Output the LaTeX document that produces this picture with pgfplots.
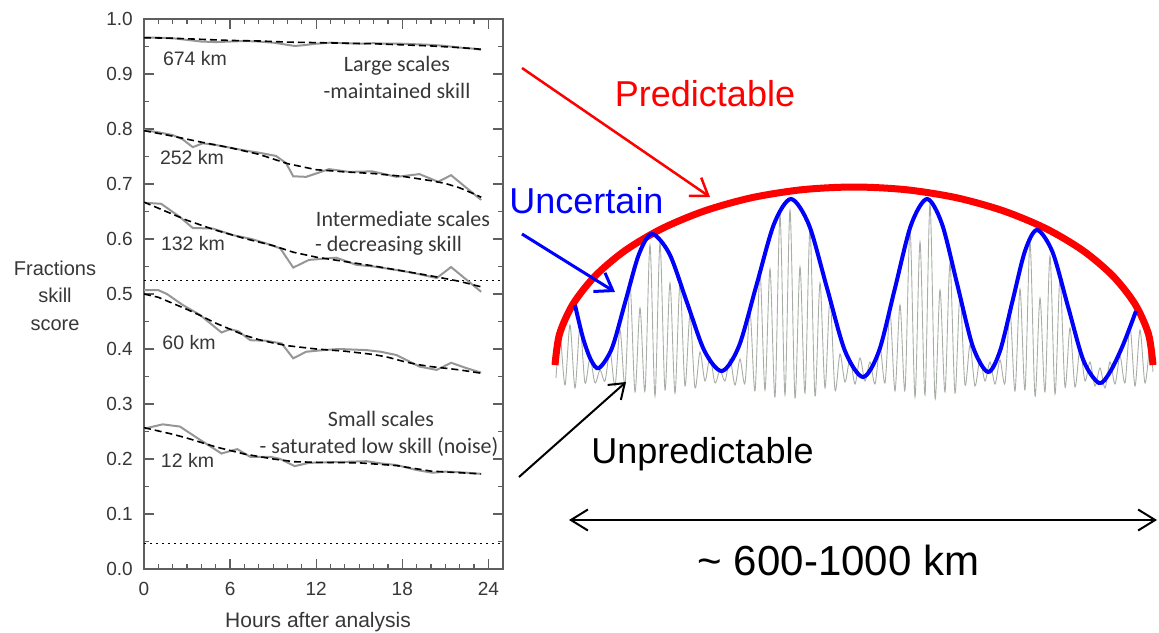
\documentclass[border=0pt]{standalone}
\usepackage{pgfplots}
\pgfplotsset{compat=1.18}
\usepackage{fontspec}
\setmainfont{Liberation Sans}
\newfontfamily\annfont{Carlito}
\usetikzlibrary{arrows.meta}
\definecolor{grayline}{RGB}{150,150,150}
\definecolor{wavegray}{RGB}{168,173,166}
\definecolor{axgray}{RGB}{95,95,95}
\definecolor{txtgray}{RGB}{55,55,55}
\begin{document}
\begin{tikzpicture}
\useasboundingbox (0pt,0pt) rectangle (1159pt,632pt);
\begin{axis}[
  at={(144pt,63pt)}, anchor=south west,
  scale only axis, width=358.7pt, height=550pt,
  xmin=0, xmax=25, ymin=0, ymax=1,
  xtick={0,6,12,18,24}, xticklabels={0,6,12,18,24},
  minor xtick={1,2,3,4,5,7,8,9,10,11,13,14,15,16,17,19,20,21,22,23},
  ytick={0,0.1,0.2,0.3,0.4,0.5,0.6,0.7,0.8,0.9,1},
  yticklabels={0.0,0.1,0.2,0.3,0.4,0.5,0.6,0.7,0.8,0.9,1.0},
  minor ytick={0.05,0.15,0.25,0.35,0.45,0.55,0.65,0.75,0.85,0.95},
  tick align=inside,
  major tick length=10pt, minor tick length=5pt,
  axis line style={axgray, line width=1.8pt},
  tick style={axgray, line width=1.2pt},
  tick label style={font=\fontsize{19}{22}\selectfont, text=txtgray},
  yticklabel style={inner sep=0pt, xshift=-11pt},
  xticklabel style={inner sep=0pt, yshift=-13pt},
  /pgf/number format/assume math mode=true,
]
% dotted reference lines
\addplot[black, line width=1.2pt, dash pattern=on 1.5pt off 4.5pt] coordinates {(0,0.524) (25,0.524)};
\addplot[black, line width=1.2pt, dash pattern=on 1.5pt off 4.5pt] coordinates {(0,0.047) (25,0.047)};
% 674 km
\addplot[grayline, line width=2pt] coordinates {(0,0.966) (1,0.966) (2,0.965) (3,0.962) (4,0.959) (5,0.958) (6,0.959) (7,0.960) (8,0.959) (9,0.957) (10,0.953) (10.5,0.951) (11,0.952) (12,0.955) (13,0.957) (14,0.956) (15,0.955) (16,0.956) (17,0.955) (18,0.955) (19,0.954) (20,0.953) (21,0.951) (22,0.948) (23,0.946) (23.5,0.944)};
\addplot[black, line width=1.6pt, dash pattern=on 7pt off 4pt] coordinates {(0,0.966) (2,0.965) (4,0.963) (6,0.961) (8,0.960) (10,0.958) (12,0.957) (14,0.956) (16,0.955) (18,0.953) (20,0.951) (22,0.948) (23.5,0.945)};
% 252 km
\addplot[grayline, line width=2pt] coordinates {(0,0.798) (1,0.794) (2,0.789) (2.7,0.781) (3.4,0.767) (4.1,0.774) (5,0.771) (6.2,0.765) (7,0.761) (8,0.757) (9.2,0.751) (9.9,0.738) (10.4,0.714) (11.3,0.713) (12.9,0.727) (14.3,0.722) (15.9,0.723) (17.6,0.713) (19.2,0.718) (20.5,0.704) (21.4,0.716) (23.5,0.671)};
\addplot[black, line width=1.6pt, dash pattern=on 7pt off 4pt] coordinates {(0,0.797) (2,0.787) (4,0.776) (6,0.766) (8,0.754) (10,0.737) (12,0.726) (14,0.722) (16,0.719) (18,0.714) (20,0.706) (21,0.701) (22,0.693) (23,0.682) (23.5,0.676)};
% 132 km
\addplot[grayline, line width=2pt] coordinates {(0,0.666) (1.2,0.664) (2.5,0.640) (3.4,0.620) (4.8,0.619) (6.2,0.607) (7.5,0.600) (8.5,0.592) (9.5,0.583) (10.4,0.548) (11.5,0.562) (13.4,0.566) (14.8,0.553) (16,0.550) (17,0.546) (18,0.542) (19,0.537) (20.4,0.529) (21.4,0.549) (23.5,0.504)};
\addplot[black, line width=1.6pt, dash pattern=on 7pt off 4pt] coordinates {(0,0.667) (2,0.645) (3,0.634) (5,0.616) (7,0.601) (9,0.588) (10.4,0.576) (12,0.567) (14,0.559) (16,0.551) (18,0.542) (20,0.533) (22,0.523) (23.5,0.513)};
% 60 km
\addplot[grayline, line width=2pt] coordinates {(0,0.507) (1,0.507) (1.6,0.500) (2.7,0.480) (3.9,0.462) (5.4,0.430) (6,0.436) (6.6,0.432) (7.4,0.416) (8.5,0.415) (9.6,0.410) (10.4,0.383) (11.3,0.395) (12.5,0.398) (13.6,0.400) (15.5,0.398) (16.5,0.395) (17.6,0.389) (19.2,0.368) (20.4,0.362) (21.4,0.375) (22.5,0.365) (23.5,0.357)};
\addplot[black, line width=1.6pt, dash pattern=on 7pt off 4pt] coordinates {(0,0.500) (1,0.494) (2,0.483) (3,0.472) (4,0.460) (5,0.447) (6,0.436) (7,0.425) (8,0.417) (9,0.411) (10,0.406) (11,0.403) (12,0.400) (13,0.398) (14,0.396) (15,0.393) (16,0.390) (17,0.385) (18,0.378) (19,0.372) (20,0.368) (21,0.365) (22,0.362) (23,0.358) (23.5,0.356)};
% 12 km
\addplot[grayline, line width=2pt] coordinates {(0,0.255) (1.3,0.263) (2.5,0.259) (3.9,0.235) (5.4,0.210) (6.5,0.218) (7.4,0.204) (8.8,0.204) (9.5,0.200) (10.5,0.187) (11.5,0.193) (13,0.194) (15.5,0.196) (16.5,0.192) (17.6,0.189) (19,0.180) (20.1,0.175) (21,0.177) (22,0.176) (23.5,0.173)};
\addplot[black, line width=1.6pt, dash pattern=on 7pt off 4pt] coordinates {(0,0.257) (2,0.245) (3,0.238) (5,0.222) (7,0.209) (9,0.200) (10.5,0.195) (12,0.194) (15,0.193) (17.6,0.188) (20,0.178) (22,0.175) (23.5,0.173)};
\end{axis}
\begin{axis}[
  at={(0pt,0pt)}, anchor=south west,
  scale only axis, width=1159pt, height=632pt,
  xmin=0, xmax=1159, ymin=0, ymax=632, y dir=reverse,
  hide axis, clip=false,
]
% left panel labels
\node[anchor=base, font=\fontsize{20}{24}\selectfont, text=txtgray] at (axis cs:55,275) {Fractions};
\node[anchor=base, font=\fontsize{20}{24}\selectfont, text=txtgray] at (axis cs:55,302.5) {skill};
\node[anchor=base, font=\fontsize{20}{24}\selectfont, text=txtgray] at (axis cs:55,330) {score};
\node[anchor=base, font=\fontsize{21}{25}\selectfont, text=txtgray] at (axis cs:318,627) {Hours after analysis};
\node[anchor=base, font=\fontsize{19.5}{23}\selectfont, text=txtgray] at (axis cs:195,65) {674 km};
\node[anchor=base, font=\fontsize{19.5}{23}\selectfont, text=txtgray] at (axis cs:192,164) {252 km};
\node[anchor=base, font=\fontsize{19.5}{23}\selectfont, text=txtgray] at (axis cs:193,250.7) {132 km};
\node[anchor=base, font=\fontsize{19.5}{23}\selectfont, text=txtgray] at (axis cs:189,349.3) {60 km};
\node[anchor=base, font=\fontsize{19.5}{23}\selectfont, text=txtgray] at (axis cs:187.5,467.3) {12 km};
\node[anchor=base, font=\annfont\fontsize{22}{26}\selectfont, text=txtgray] at (axis cs:397,71.7) {Large scales};
\node[anchor=base, font=\annfont\fontsize{22}{26}\selectfont, text=txtgray] at (axis cs:397,98.3) {-maintained skill};
\node[anchor=base, font=\annfont\fontsize{22}{26}\selectfont, text=txtgray] at (axis cs:403,226.7) {Intermediate scales};
\node[anchor=base west, font=\annfont\fontsize{22}{26}\selectfont, text=txtgray, inner sep=0pt] at (axis cs:315,251.7) {- decreasing skill};
\node[anchor=base, font=\annfont\fontsize{22}{26}\selectfont, text=txtgray] at (axis cs:381,426.7) {Small scales};
\node[anchor=base, font=\annfont\fontsize{22}{26}\selectfont, text=txtgray] at (axis cs:379,453) {- saturated low skill (noise)};
% gray fast oscillation
\addplot[wavegray, line width=0.9pt, smooth] coordinates {
(556,378) (560,335) (565,385) (570,325) (575,388) (580,326) (585,383) (590,358) (595,383) (600,370) (605,381) (610,351) (615,386) (620,330) (625,385) (630,285) (635,392) (640,308) (645,391) (650,245) (655,396) (660,243) (665,390) (670,283) (675,393) (680,283) (685,386) (690,315) (695,388) (700,352) (705,381) (710,357) (715,383) (720,370) (725,381) (730,359) (735,385) (740,359) (745,383) (750,312) (755,391) (760,273) (765,390) (770,269) (775,397) (780,215) (785,395) (790,210) (795,398) (800,267) (805,393) (810,229) (815,396) (820,283) (825,388) (830,299) (835,390) (840,354) (845,382) (850,359) (855,384) (860,358) (865,381) (870,362) (875,384) (880,347) (885,383) (890,312) (895,391) (900,305) (905,390) (910,229) (915,397) (920,242) (925,395) (930,204) (935,398) (940,290) (945,392) (950,263) (955,393) (960,295) (965,385) (970,345) (975,386) (980,359) (985,381) (990,362) (995,384) (1000,360) (1005,383) (1010,311) (1015,391) (1020,289) (1025,390) (1030,242) (1035,396) (1040,298) (1045,392) (1050,256) (1055,394) (1060,278) (1065,387) (1070,328) (1075,387) (1080,348) (1085,381) (1090,362) (1095,386) (1100,368) (1105,388) (1110,362) (1115,384) (1120,356) (1125,383) (1130,327) (1135,386) (1140,330) (1145,383) (1150,345) (1153,372)};
% red predictable envelope
\addplot[red, line width=7pt, smooth] coordinates {
(555,365) (559.5,334.1) (573,304.1) (595.1,276) (625,250.6) (661.8,228.7) (704.5,210.9) (751.7,197.7) (802.1,189.7) (854,187) (905.9,189.7) (956.3,197.7) (1003.5,210.9) (1046.2,228.7) (1083,250.6) (1112.9,276) (1135,304.1) (1148.5,334.1) (1153,365)};
% blue uncertain wave
\addplot[blue, line width=4pt, smooth] coordinates {
(575,305) (583,338) (591,360) (599,368) (612,348) (625.5,301) (639,254) (652,234) (669.5,254) (687,302.5) (704.5,351) (722,371) (739,346) (756.5,285) (774,224) (791,199) (809,225) (827,288) (845,351) (863,377) (879,351) (895,288) (911,225) (927,199) (942,224) (957.5,285.5) (973,347) (988,372) (1000,351) (1012.5,301) (1025,251) (1037,230) (1052.5,252) (1068,306.5) (1083.5,360.6) (1099,383) (1110,372) (1123,345) (1136,311)};
% arrows
\addplot[red, line width=2.5pt, -{Straight Barb[length=16pt,width=22pt]}] coordinates {(522,68) (710,197)};
\addplot[blue, line width=3pt, -{Straight Barb[length=16pt,width=22pt]}] coordinates {(522,234) (615,292)};
\addplot[black, line width=2pt, -{Straight Barb[length=14pt,width=20pt]}] coordinates {(519,477) (626,382)};
\addplot[black, line width=2pt, {Straight Barb[length=17pt,width=21pt]}-{Straight Barb[length=17pt,width=21pt]}] coordinates {(569,520) (1157,520)};
% texts
\node[anchor=base, font=\fontsize{36}{40}\selectfont, text=red] at (axis cs:705,106.7) {Predictable};
\node[anchor=base, font=\fontsize{36}{40}\selectfont, text=blue] at (axis cs:586.5,213) {Uncertain};
\node[anchor=base, font=\fontsize{36}{40}\selectfont, text=black] at (axis cs:702.5,463.3) {Unpredictable};
\node[anchor=base, font=\fontsize{42}{46}\selectfont, text=black] at (axis cs:838.5,575) {\textasciitilde\ 600-1000 km};
\end{axis}
\end{tikzpicture}
\end{document}
